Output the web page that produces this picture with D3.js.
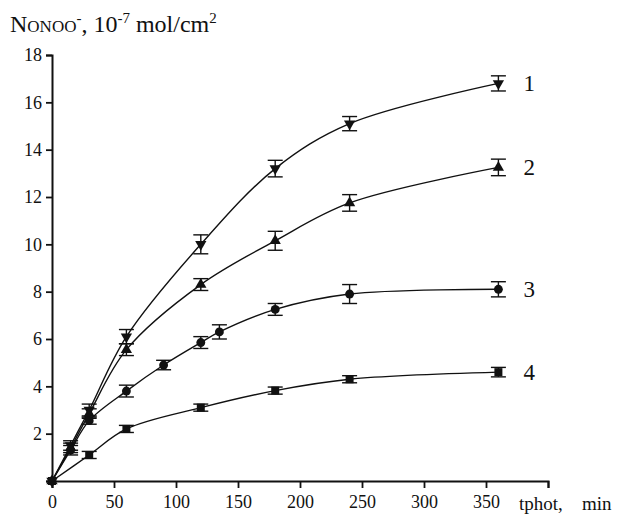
<!DOCTYPE html>
<html>
<head>
<meta charset="utf-8">
<script src="https://cdn.jsdelivr.net/npm/d3@7"></script>
<style>
  body { margin: 0; background: #fff; }
  svg text { font-family: "Liberation Serif", "Times New Roman", serif; }
</style>
</head>
<body>
<svg id="chart"></svg>
<script>
// DATA
const times1 = [0, 15, 30, 60, 120, 180, 240, 360];
const vals1 = [0, 1.5, 3.0, 6.1, 10.0, 13.2, 15.1, 16.8];
const errs1 = [0, 0.2, 0.25, 0.3, 0.4, 0.35, 0.3, 0.32];

const times2 = [0, 15, 30, 60, 120, 180, 240, 360];
const vals2 = [0, 1.4, 2.85, 5.55, 8.3, 10.15, 11.75, 13.25];
const errs2 = [0, 0.2, 0.2, 0.25, 0.25, 0.4, 0.35, 0.35];

const times3 = [0, 15, 30, 60, 90, 120, 135, 180, 240, 360];
const vals3 = [0, 1.3, 2.55, 3.8, 4.9, 5.85, 6.3, 7.25, 7.9, 8.1];
const errs3 = [0, 0.2, 0.15, 0.25, 0.2, 0.25, 0.3, 0.25, 0.4, 0.32];

const times4 = [0, 30, 60, 120, 180, 240, 360];
const vals4 = [0, 1.1, 2.2, 3.1, 3.82, 4.3, 4.6];
const errs4 = [0, 0.15, 0.15, 0.15, 0.15, 0.15, 0.2];

const seriesNames = ["1", "2", "3", "4"];
const xTickLabels = [0, 50, 100, 150, 200, 250, 300, 350];
const yTickLabels = [2, 4, 6, 8, 10, 12, 14, 16, 18];

// DIMENSIONS
const dims = { width: 618, height: 514 };
const svg = d3.select("#chart").attr("width", dims.width).attr("height", dims.height);

const x = d3.scaleLinear().domain([0, 400]).range([52, 548]);
const y = d3.scaleLinear().domain([0, 18]).range([481, 55]);

// AXES
const axisX = svg.append("g").attr("transform", `translate(0,${y(0)})`);
axisX.call(d3.axisBottom(x).tickValues(d3.range(25, 400, 50)).tickSize(4).tickFormat(""));
axisX.call(d3.axisBottom(x).tickValues(xTickLabels.concat([400])).tickSize(7)
  .tickFormat(d => d === 400 ? "" : d));

const axisY = svg.append("g").attr("transform", `translate(${x(0)},0)`);
axisY.call(d3.axisLeft(y).tickValues(d3.range(1, 18, 2)).tickSize(4).tickFormat(""));
axisY.call(d3.axisLeft(y).tickValues([0].concat(yTickLabels)).tickSize(6)
  .tickFormat(d => d === 0 ? "" : d));

// d3 axes put a sans-serif font on the group, drop it
axisX.attr("font-family", null);
axisY.attr("font-family", null);

svg.selectAll(".domain").attr("stroke", "#111").attr("stroke-width", 2);
svg.selectAll(".tick line").attr("stroke", "#111").attr("stroke-width", 1.8);
svg.selectAll(".tick text")
  .attr("font-size", 18)
  .style("font-family", "'Liberation Serif', serif")
  .attr("fill", "#111");
axisX.selectAll(".tick text").attr("dy", "0.95em");
axisY.selectAll(".tick text").attr("dx", "-1px");

// AXIS TITLES
svg.append("text").attr("x", 519).attr("y", 510).attr("font-size", 19).attr("fill", "#111")
  .text("tphot,");
svg.append("text").attr("x", 582).attr("y", 510).attr("font-size", 19).attr("fill", "#111")
  .text("min");

const title = svg.append("text").attr("x", 10).attr("y", 32).attr("font-size", 24).attr("fill", "#111");
title.append("tspan").text("N");
title.append("tspan").attr("font-size", 17).text("ONOO");
title.append("tspan").attr("font-size", 15).attr("dy", -9).text("-");
title.append("tspan").attr("dy", 9).text(", 10");
title.append("tspan").attr("font-size", 15).attr("dy", -9).text("-7");
title.append("tspan").attr("dy", 9).text(" mol/cm");
title.append("tspan").attr("font-size", 15).attr("dy", -9).text("2");

// SERIES
const series = [
  { name: seriesNames[0], t: times1, v: vals1, e: errs1, sym: d3.symbolTriangle, size: 55, rot: 180 },
  { name: seriesNames[1], t: times2, v: vals2, e: errs2, sym: d3.symbolTriangle, size: 55, rot: 0 },
  { name: seriesNames[2], t: times3, v: vals3, e: errs3, sym: d3.symbolCircle, size: 62, rot: 0 },
  { name: seriesNames[3], t: times4, v: vals4, e: errs4, sym: d3.symbolSquare, size: 64, rot: 0 },
];

const line = d3.line()
  .x(d => x(d.t))
  .y(d => y(d.v))
  .curve(d3.curveCatmullRom.alpha(0.5));

const capHalf = 7.5;

series.forEach(s => {
  const pts = s.t.map((t, i) => ({ t, v: s.v[i], e: s.e[i] }));
  const g = svg.append("g");

  g.append("path")
    .attr("d", line(pts))
    .attr("fill", "none")
    .attr("stroke", "#111")
    .attr("stroke-width", 1.4);

  const bars = g.selectAll("g.err")
    .data(pts.filter(d => d.e > 0))
    .join("g")
    .attr("class", "err")
    .attr("stroke", "#111")
    .attr("stroke-width", 1.4);
  bars.append("line")
    .attr("x1", d => x(d.t)).attr("x2", d => x(d.t))
    .attr("y1", d => y(d.v + d.e)).attr("y2", d => y(d.v - d.e));
  bars.append("line")
    .attr("x1", d => x(d.t) - capHalf).attr("x2", d => x(d.t) + capHalf)
    .attr("y1", d => y(d.v + d.e)).attr("y2", d => y(d.v + d.e));
  bars.append("line")
    .attr("x1", d => x(d.t) - capHalf).attr("x2", d => x(d.t) + capHalf)
    .attr("y1", d => y(d.v - d.e)).attr("y2", d => y(d.v - d.e));

  g.selectAll("path.mark")
    .data(pts)
    .join("path")
    .attr("class", "mark")
    .attr("d", d3.symbol().type(s.sym).size(s.size))
    .attr("transform", d => `translate(${x(d.t)},${y(d.v)}) rotate(${s.rot})`)
    .attr("fill", "#111");

  const last = pts[pts.length - 1];
  g.append("text")
    .attr("x", x(last.t) + 25)
    .attr("y", y(last.v))
    .attr("dy", "0.35em")
    .attr("font-size", 23)
    .attr("fill", "#111")
    .text(s.name);
});
</script>
</body>
</html>
